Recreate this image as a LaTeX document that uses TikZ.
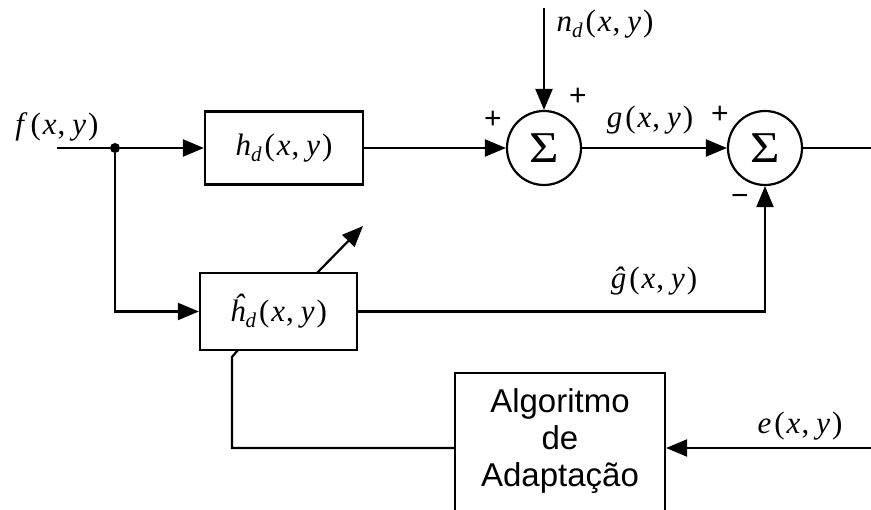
\documentclass[tikz,border=0pt]{standalone}
\usepackage{fontspec}
\setmainfont{Liberation Serif}
\newfontfamily\arialf{Liberation Sans}
\usetikzlibrary{arrows.meta}
\newcommand\mxy{\kern3pt(\kern2pt\textit{x}\kern1pt,\kern7pt\textit{y}\kern2pt)}
\newcommand\subd{\raisebox{-6pt}{\fontsize{21}{21}\selectfont\itshape d}}
\begin{document}
\begin{tikzpicture}[x=1pt,y=-1pt,
  lw/.style={line width=2.2pt},
  arr/.style={lw,-{Triangle[length=21pt,width=17pt]}},
  blk/.style={draw,lw,inner sep=0pt,font=\fontsize{31}{31}\selectfont},
  sumn/.style={draw,lw,circle,minimum size=74pt,inner sep=0pt},
  lbl/.style={font=\fontsize{31}{31}\selectfont,inner sep=0pt},
  sgn/.style={font=\fontsize{30}{30}\selectfont\arialf,inner sep=0pt}]
\useasboundingbox (0,0) rectangle (871,510);
\clip (0,0) rectangle (871,510);
% blocks
\node[blk,minimum width=158pt,minimum height=73pt] (hd) at (284,148) {\textit{h}\subd\mxy};
\node[blk,minimum width=157pt,minimum height=77pt] (hh) at (278.5,311.5) {\textit{ĥ}\subd\mxy};
\node[draw,lw,minimum width=210pt,minimum height=157pt,inner sep=0pt] (alg) at (560,451.5) {};
\node[font=\fontsize{33}{37}\selectfont\arialf,align=center,inner sep=0pt,anchor=base] (algt) at (560,487) {Algoritmo\\de\\Adaptação};
\node[sumn] (s1) at (544,148) {\scalebox{1.15}[1]{\fontsize{44}{44}\selectfont Σ}};
\node[sumn] (s2) at (765,148) {\scalebox{1.15}[1]{\fontsize{44}{44}\selectfont Σ}};
% coordinates
\coordinate (fin) at (57,148);
\node[circle,fill,inner sep=0pt,minimum size=10pt] (dot) at (115,148) {};
\coordinate (ndin) at (544,8);
\coordinate (out) at (871,148);
\coordinate (ein) at (871,448);
\coordinate (ghc) at (765,311.5);
\coordinate (da) at (317,273);
\coordinate (db) at (363,226);
\coordinate (fb1) at (238,350);
\coordinate (fb2) at (232,357);
\coordinate (fb3) at (232,448);
% connectors
\draw[lw] (fin) -- (dot);
\draw[arr] (dot) -- (hd.west);
\draw[arr] (dot) |- (hh.west);
\draw[arr] (hd.east) -- (s1.west);
\draw[arr] (ndin) -- (s1.north);
\draw[arr] (s1.east) -- (s2.west);
\draw[lw] (s2.east) -- (out);
\draw[arr] (hh.east) -- (ghc) -- (s2.south);
\draw[arr] (da) -- (db);
\draw[lw] (fb1) -- (fb2) -- (fb3) -- (alg.west |- fb3);
\draw[arr] (ein) -- (alg.east |- ein);
% labels
\node[lbl] (lf) at (57,127) {\textit{f}\mxy};
\node[lbl] (lnd) at (605,24) {\textit{n}\subd\mxy};
\node[lbl] (lg) at (650,120) {\textit{g}\mxy};
\node[lbl] (lgh) at (654,281) {\textit{ĝ}\mxy};
\node[lbl] (le) at (800,426) {\textit{e}\mxy};
\node[sgn] (p1) at (493,120) {+};
\node[sgn] (p2) at (578,97) {+};
\node[sgn] (p3) at (720,115) {+};
\node[sgn] (m1) at (740,200) {−};
\end{tikzpicture}
\end{document}
